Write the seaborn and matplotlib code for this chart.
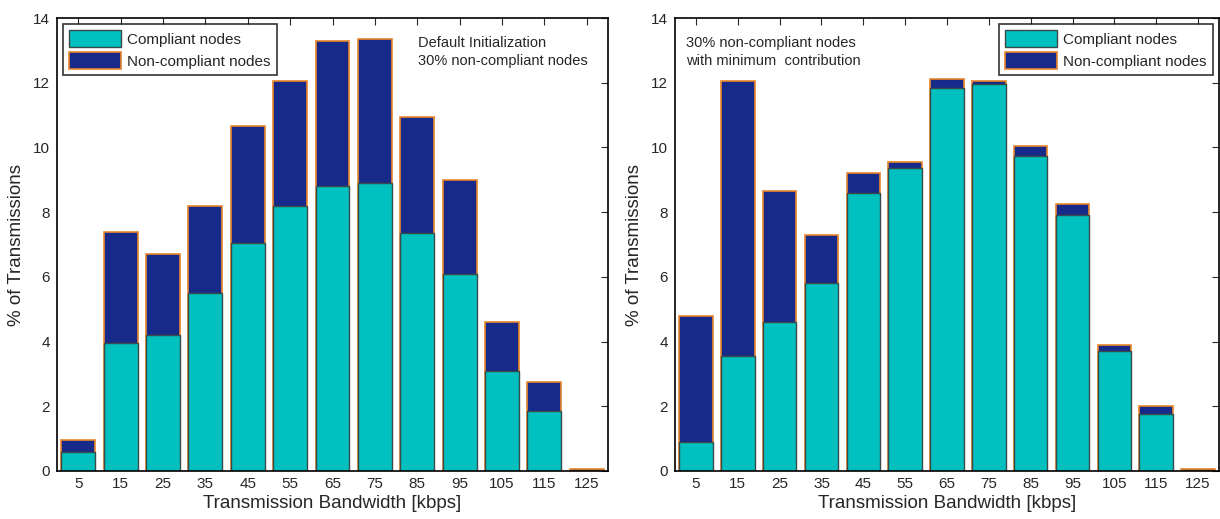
import matplotlib
matplotlib.use("Agg")
import matplotlib.pyplot as plt
from matplotlib.patches import Patch
import seaborn as sns
import pandas as pd

categories = ["5", "15", "25", "35", "45", "55", "65", "75", "85", "95", "105", "115", "125"]
left_compliant = [0.6, 3.97, 4.2, 5.5, 7.05, 8.2, 8.8, 8.9, 7.35, 6.1, 3.1, 1.85, 0.0]
left_total = [0.95, 7.4, 6.7, 8.2, 10.65, 12.05, 13.3, 13.35, 10.95, 9.0, 4.6, 2.75, 0.05]
right_compliant = [0.9, 3.55, 4.6, 5.8, 8.6, 9.35, 11.85, 11.95, 9.75, 7.9, 3.7, 1.75, 0.0]
right_total = [4.8, 12.05, 8.65, 7.3, 9.2, 9.55, 12.1, 12.05, 10.05, 8.25, 3.88, 2.0, 0.05]
yticks = [0, 2, 4, 6, 8, 10, 12, 14]
legend_labels = ["Compliant nodes", "Non-compliant nodes"]
left_note = "Default Initialization\n30% non-compliant nodes"
right_note = "30% non-compliant nodes\nwith minimum  contribution"

sns.set_style("white")
plt.rcParams["font.family"] = ["Liberation Sans", "DejaVu Sans"]

CYAN = "#00C0C0"
NAVY = "#172A8A"
ORANGE = "#E8862A"
DARK = "#3A4A4A"

fig = plt.figure(figsize=(12.2, 5.19), dpi=100)
ax1 = fig.add_axes([57 / 1220, 48 / 519, 551 / 1220, 453 / 519])
ax2 = fig.add_axes([675 / 1220, 48 / 519, 544 / 1220, 453 / 519])


def draw(ax, comp, total, loc, note, note_xy):
    df = pd.DataFrame({"bw": categories, "comp": comp, "total": total})
    sns.barplot(data=df, x="bw", y="total", order=categories, color=NAVY,
                edgecolor=ORANGE, linewidth=1.2, width=0.8, saturation=1, ax=ax)
    sns.barplot(data=df, x="bw", y="comp", order=categories, color=CYAN,
                edgecolor=DARK, linewidth=1.0, width=0.8, saturation=1, ax=ax)
    ax.set_xlim(-0.5, 12.5)
    ax.set_ylim(0, 14)
    ax.set_yticks(yticks)
    ax.set_yticklabels([str(t) for t in yticks])
    ax.tick_params(direction="in", length=5, top=True, right=True,
                   labelsize=11, width=0.8)
    ax.tick_params(axis="x", pad=4)
    ax.tick_params(axis="y", pad=5)
    for s in ax.spines.values():
        s.set_color("black")
        s.set_linewidth(1.2)
    ax.set_xlabel("Transmission Bandwidth [kbps]", fontsize=13.5, labelpad=3)
    ax.set_ylabel("% of Transmissions", fontsize=13.5, labelpad=6)
    handles = [Patch(facecolor=CYAN, edgecolor=DARK, linewidth=1.0),
               Patch(facecolor=NAVY, edgecolor=ORANGE, linewidth=1.2)]
    leg = ax.legend(handles, legend_labels, loc=loc, fontsize=11, frameon=True,
                    fancybox=False, borderaxespad=0.4, handlelength=3.4,
                    handleheight=1.3, handletextpad=0.4, borderpad=0.4,
                    labelspacing=0.35)
    leg.get_frame().set_edgecolor("black")
    leg.get_frame().set_linewidth(1.2)
    ax.text(note_xy[0], note_xy[1], note, transform=ax.transAxes, fontsize=10.5,
            va="top", ha="left", linespacing=1.35)


draw(ax1, left_compliant, left_total, "upper left", left_note, (0.655, 0.96))
draw(ax2, right_compliant, right_total, "upper right", right_note, (0.02, 0.96))

fig.savefig("out.png", dpi=100)
